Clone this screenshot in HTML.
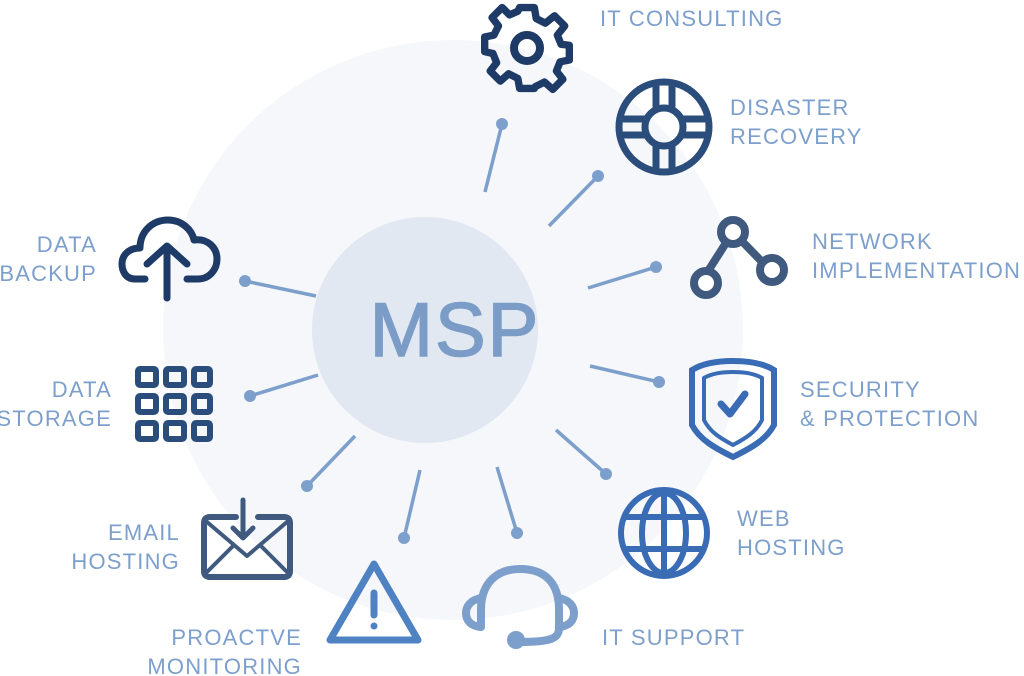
<!DOCTYPE html>
<html><head><style>html,body{margin:0;padding:0;background:#fff}svg{display:block}</style></head>
<body>
<svg width="1024" height="676" viewBox="0 0 1024 676" xmlns="http://www.w3.org/2000/svg">
<circle cx="453" cy="330" r="290" fill="#f5f7fa"/>
<circle cx="425" cy="330" r="113" fill="#e2e8f2"/>
<text x="455" y="356" text-anchor="middle" font-family="Liberation Sans, sans-serif" font-size="76" fill="#7a9cc6" stroke="#7a9cc6" stroke-width="1.5" letter-spacing="2">MSP</text>
<g stroke="#7d9fcb" stroke-width="3.5" fill="#7d9fcb">
<line x1="485" y1="192" x2="502" y2="124"/><circle cx="502" cy="124" r="6" stroke="none"/>
<line x1="549" y1="226" x2="598" y2="176"/><circle cx="598" cy="176" r="6" stroke="none"/>
<line x1="588" y1="288" x2="656" y2="267"/><circle cx="656" cy="267" r="6" stroke="none"/>
<line x1="590" y1="366" x2="659" y2="382"/><circle cx="659" cy="382" r="6" stroke="none"/>
<line x1="556" y1="430" x2="606" y2="474"/><circle cx="606" cy="474" r="6" stroke="none"/>
<line x1="497" y1="467" x2="517" y2="533"/><circle cx="517" cy="533" r="6" stroke="none"/>
<line x1="420" y1="470" x2="404" y2="538"/><circle cx="404" cy="538" r="6" stroke="none"/>
<line x1="355" y1="436" x2="307" y2="486"/><circle cx="307" cy="486" r="6" stroke="none"/>
<line x1="318" y1="375" x2="250" y2="396"/><circle cx="250" cy="396" r="6" stroke="none"/>
<line x1="316" y1="296" x2="245" y2="281"/><circle cx="245" cy="281" r="6" stroke="none"/>
</g>
<!-- gear -->
<g transform="translate(527,48)" fill="none" stroke="#1e3a66" stroke-width="8" stroke-linejoin="round">
<path d="M-8,-44 L8,-44 L10,-32 L20,-27 L30,-35 L41,-24 L33,-14 L37,-4 L46,-3 L46,13 L36,15 L32,25 L39,34 L28,45 L19,37 L9,42 L8,44 L-8,44 L-10,33 L-20,28 L-29,36 L-40,25 L-33,16 L-37,6 L-46,4 L-46,-12 L-36,-14 L-31,-24 L-38,-33 L-27,-44 L-19,-36 L-10,-40 Z" transform="scale(0.92)"/>
<circle r="13"/>
</g>
<!-- lifebuoy -->
<g transform="translate(664,127)" fill="none" stroke="#2a4d7c" stroke-width="7">
<circle r="45"/><circle r="19"/>
<path d="M-8,-42 V-19 M8,-42 V-19 M-8,42 V19 M8,42 V19 M-42,-8 H-19 M-42,8 H-19 M42,-8 H19 M42,8 H19"/>
</g>
<!-- network -->
<g fill="none" stroke="#3f5a7e" stroke-width="8">
<line x1="733" y1="232" x2="701" y2="282"/><line x1="733" y1="232" x2="770" y2="270"/>
<circle cx="733" cy="232" r="12" fill="#fff"/><circle cx="706" cy="283" r="12" fill="#fff"/><circle cx="772" cy="270" r="12" fill="#fff"/>
</g>
<!-- shield -->
<g fill="none" stroke="#3a6bb5">
<path d="M733,361 C712,361 700,365 692,370 L692,425 C700,440 715,448 733,457 C751,448 766,440 774,425 L774,370 C766,365 754,361 733,361 Z" stroke-width="6"/>
<path d="M733,372 C718,372 709,375 704,378 L704,420 C710,432 720,438 733,445 C746,438 756,432 762,420 L762,378 C757,375 748,372 733,372 Z" stroke-width="4"/>
<path d="M721,404 L730,414 L745,394" stroke-width="7" stroke-linecap="round" stroke-linejoin="round"/>
</g>
<!-- globe -->
<g transform="translate(664,533)" fill="none" stroke="#3a6bb5" stroke-width="6">
<circle r="43"/><ellipse rx="22" ry="40"/><line y1="-42" y2="42"/><line x1="-42" x2="42" y1="-16" y2="-16"/><line x1="-42" x2="42" y1="16" y2="16"/>
</g>
<!-- headset -->
<g fill="none" stroke="#7d9fcb" stroke-width="8" stroke-linecap="round">
<path d="M481,625 L481,610 C481,580 500,569 520,569 C542,569 559,580 559,610 L559,628 C559,638 552,642 520,642"/>
<path d="M481,598 C470,600 466,607 466,613 C466,620 470,626 481,627"/>
<path d="M559,598 C570,600 574,607 574,613 C574,620 570,626 559,627"/>
<circle cx="516" cy="640" r="5" fill="#7d9fcb"/>
</g>
<!-- triangle -->
<g stroke="#4f82c2" fill="none" stroke-linejoin="round">
<path d="M374,564 L330,640 L418,640 Z" stroke-width="7"/>
<line x1="374" y1="593" x2="374" y2="615" stroke-width="7" stroke-linecap="round"/>
<circle cx="374" cy="626" r="3.5" fill="#4f82c2" stroke="none"/>
</g>
<!-- email -->
<g fill="none" stroke="#3f5a7e" stroke-width="6" stroke-linecap="round" stroke-linejoin="round">
<path d="M236,517 L210,517 Q204,517 204,523 L204,571 Q204,577 210,577 L284,577 Q290,577 290,571 L290,523 Q290,517 284,517 L258,517"/>
<path d="M207,522 L247,556 L287,522 M207,572 L233,546 M287,572 L261,546" stroke-width="4"/>
<path d="M243,500 L243,538 M233,528 L243,538 L253,528" stroke-width="5"/>
</g>
<!-- grid -->
<g fill="none" stroke="#2a4d7c" stroke-width="6">
<rect x="138" y="369" width="18" height="16" rx="2"/><rect x="166" y="369" width="18" height="16" rx="2"/><rect x="194" y="369" width="16" height="16" rx="2"/>
<rect x="138" y="396" width="18" height="16" rx="2"/><rect x="166" y="396" width="18" height="16" rx="2"/><rect x="194" y="396" width="16" height="16" rx="2"/>
<rect x="138" y="423" width="18" height="16" rx="2"/><rect x="166" y="423" width="18" height="16" rx="2"/><rect x="194" y="423" width="16" height="16" rx="2"/>
</g>
<!-- cloud -->
<g fill="none" stroke="#1e3a66" stroke-width="7" stroke-linecap="round" stroke-linejoin="round">
<path d="M145,279 L135,279 C125,279 122,270 122,264 C122,254 130,248 140,248 C140,232 152,220 168,220 C182,220 192,230 194,240 C208,238 217,248 217,259 C217,270 209,279 198,279 L187,279"/>
<path d="M167,298 L167,248 M147,264 L167,246 L187,264"/>
</g>
<g font-family="Liberation Sans, sans-serif" font-size="22" fill="#7d9fcb" letter-spacing="1.2">
<text x="600" y="26">IT CONSULTING</text>
<text x="730" y="115">DISASTER</text><text x="730" y="144">RECOVERY</text>
<text x="812" y="249">NETWORK</text><text x="812" y="278">IMPLEMENTATION</text>
<text x="800" y="397">SECURITY</text><text x="800" y="426">&amp; PROTECTION</text>
<text x="737" y="526">WEB</text><text x="737" y="555">HOSTING</text>
<text x="602" y="645">IT SUPPORT</text>
<g text-anchor="end">
<text x="302" y="645">PROACTVE</text><text x="302" y="674">MONITORING</text>
<text x="180" y="540">EMAIL</text><text x="180" y="569">HOSTING</text>
<text x="112" y="397">DATA</text><text x="112" y="426">STORAGE</text>
<text x="97" y="252">DATA</text><text x="97" y="281">BACKUP</text>
</g>
</g>
</svg>
</body></html>
